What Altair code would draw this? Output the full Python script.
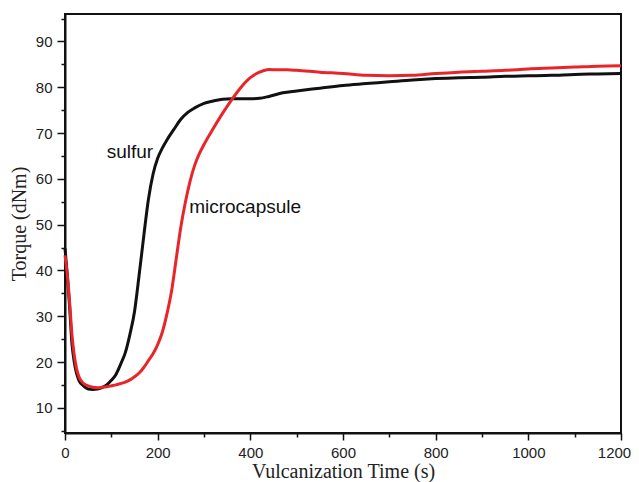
import altair as alt
import pandas as pd

sulfur_t = [0, 5, 10, 15, 20, 25, 30, 40, 50, 60, 70, 80, 90, 100, 110, 120, 130, 140, 150,
            160, 170, 180, 190, 200, 210, 220, 235, 250, 265, 280, 300, 320, 340, 360, 380,
            400, 420, 440, 470, 500, 550, 600, 650, 700, 750, 800, 850, 900, 950, 1000,
            1050, 1100, 1150, 1200]
sulfur_v = [44.8, 39, 32, 24, 20, 17.5, 16, 14.8, 14.1, 14.0, 14.1, 14.4, 15, 16, 17.3, 19.5,
            22, 26, 31, 39, 47.5, 55.5, 61, 64.5, 66.7, 68.5, 70.8, 73, 74.5, 75.5, 76.5, 77,
            77.4, 77.5, 77.5, 77.5, 77.6, 78, 78.8, 79.2, 79.8, 80.4, 80.8, 81.2, 81.6, 81.9,
            82.1, 82.2, 82.4, 82.5, 82.6, 82.8, 82.9, 83.0]

micro_t = [0, 5, 10, 15, 20, 25, 30, 40, 50, 60, 70, 80, 90, 100, 110, 120, 130, 140, 150,
           160, 170, 180, 190, 200, 210, 220, 230, 240, 250, 260, 270, 280, 290, 300, 320,
           340, 360, 380, 400, 420, 440, 460, 480, 500, 550, 600, 650, 700, 750, 800, 850,
           900, 950, 1000, 1050, 1100, 1150, 1200]
micro_v = [43.3, 39, 33, 26, 21.5, 18.5, 16.8, 15.3, 14.8, 14.5, 14.4, 14.5, 14.6, 14.8, 15.0,
           15.3, 15.6, 16.1, 16.8, 17.6, 18.8, 20.3, 21.8, 23.8, 26.5, 30.5, 35.5, 42.5, 49.5,
           55, 59.5, 63, 65.5, 67.5, 71, 74.3, 77.3, 80, 82.1, 83.3, 83.9, 83.8, 83.8, 83.7,
           83.3, 83.0, 82.6, 82.5, 82.6, 83.0, 83.3, 83.5, 83.7, 84.0, 84.2, 84.4, 84.6, 84.7]

label_text = ["sulfur", "microcapsule"]
label_x = [90, 268]
label_y = [65.8, 53.8]

x_ticks = list(range(0, 1201, 100))
y_ticks = list(range(5, 96, 5))

df = pd.concat([
    pd.DataFrame({"t": sulfur_t, "v": sulfur_v, "s": "sulfur"}),
    pd.DataFrame({"t": micro_t, "v": micro_v, "s": "microcapsule"}),
])
lab = pd.DataFrame({"text": label_text, "x": label_x, "y": label_y})

xs = alt.Scale(domain=[0, 1200], nice=False, zero=False)
ys = alt.Scale(domain=[4.5, 96], nice=False, zero=False)


def make_xaxis():
    return alt.Axis(
        values=x_ticks, grid=False, title="Vulcanization Time (s)", format="d",
        labelOverlap=False, labelFlush=False, labelPadding=5, titlePadding=1,
        labelExpr="datum.value % 200 == 0 ? datum.label : ''",
        labelOffset={"condition": {"test": "datum.value == 1200", "value": -7}, "value": 0},
        tickSize={"condition": {"test": "datum.value % 200 != 0", "value": 4}, "value": 7},
    )


def make_yaxis():
    return alt.Axis(
        values=y_ticks, grid=False, title="Torque (dNm)", format="d",
        labelOverlap=False, labelFlush=False, labelPadding=5, titlePadding=6,
        labelExpr="datum.value % 10 == 0 ? datum.label : ''",
        tickSize={"condition": {"test": "datum.value % 10 != 0", "value": 4}, "value": 8},
    )


lines = alt.Chart(df).mark_line(strokeWidth=3, interpolate="monotone").encode(
    x=alt.X("t:Q", scale=xs, axis=make_xaxis()),
    y=alt.Y("v:Q", scale=ys, axis=make_yaxis()),
    color=alt.Color("s:N", scale=alt.Scale(domain=["sulfur", "microcapsule"],
                                           range=["#111111", "#e8262a"]), legend=None),
    detail="s:N",
)

texts = alt.Chart(lab).mark_text(font="Liberation Sans", fontSize=19, align="left",
                                  baseline="middle", color="#111111").encode(
    x=alt.X("x:Q", scale=xs, axis=make_xaxis()),
    y=alt.Y("y:Q", scale=ys, axis=make_yaxis()),
    text="text:N",
)

chart = alt.layer(lines, texts).properties(
    width=556, height=419,
    autosize=alt.AutoSizeParams(type="none"),
    padding={"left": 57, "top": 6, "right": 10, "bottom": 49},
).configure_view(
    stroke="#111111", strokeWidth=2
).configure_axis(
    domainColor="#111111", domainWidth=2, tickColor="#111111", tickWidth=1.5,
    labelFont="Liberation Sans", labelFontSize=15, labelColor="#222222",
    labelOverlap=False,
    titleFont="Liberation Serif", titleFontSize=20, titleFontWeight="normal",
    titleColor="#222222",
)

chart.save("out.html", embed_options={"renderer": "svg", "actions": False})
